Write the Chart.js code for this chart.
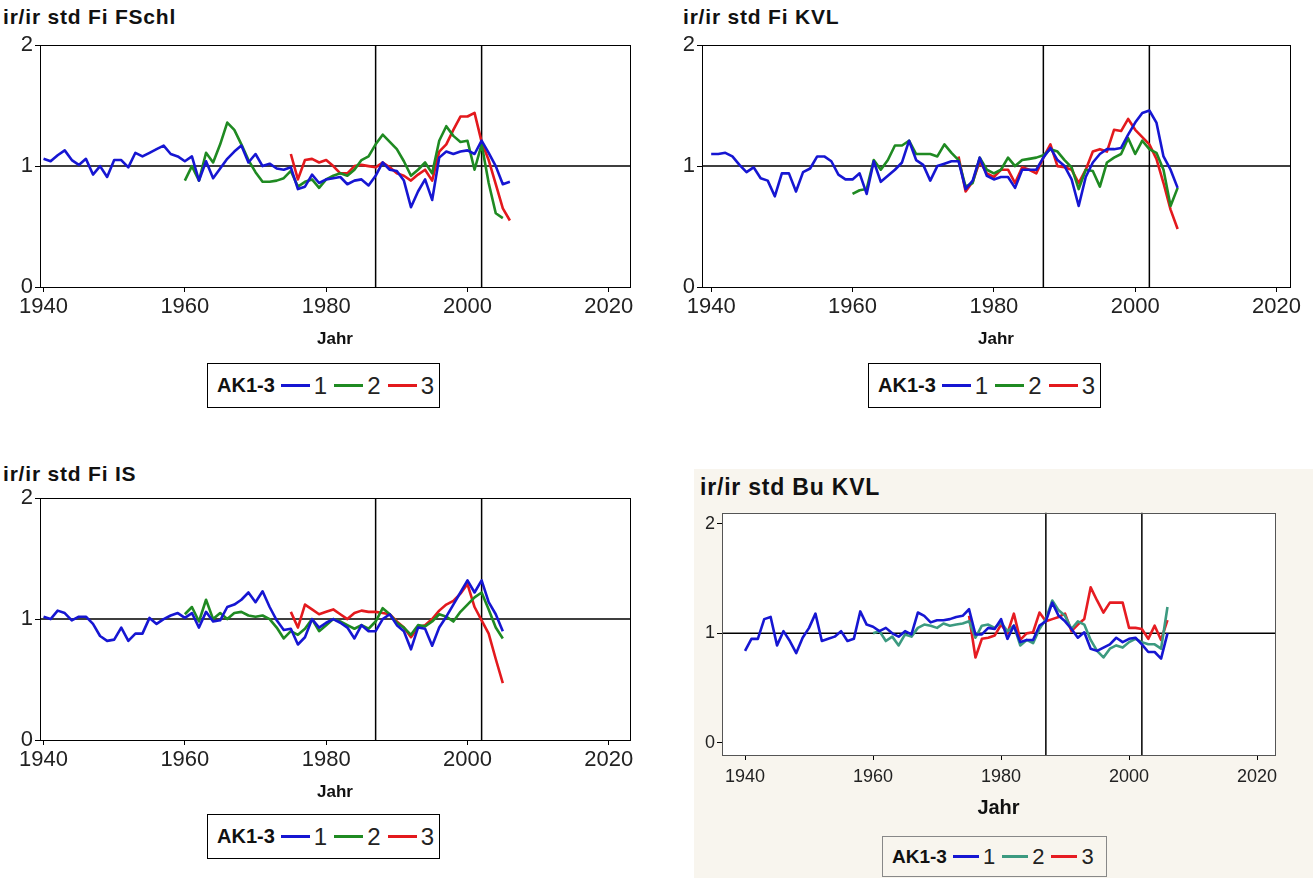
<!DOCTYPE html>
<html>
<head>
<meta charset="utf-8">
<script src="https://cdn.jsdelivr.net/npm/chart.js@4.4.1/dist/chart.umd.min.js"></script>
<style>
  body { margin: 0; width: 1313px; height: 878px; position: relative; overflow: hidden; background: #fff;
         font-family: "Liberation Sans", Arial, sans-serif; color: #111; }
  .bu-bg { position: absolute; left: 694px; top: 469px; width: 619px; height: 409px; background: #f8f5ee; }
  .title { position: absolute; font-weight: bold; white-space: nowrap; letter-spacing: 0.8px; }
  canvas { position: absolute; }
  .legend { position: absolute; border: 1px solid #000; box-sizing: border-box; display: flex; align-items: center;
            padding-left: 9px; white-space: nowrap; }
  .legend b { margin-right: 4px; }
  .legend .ln { display: inline-block; height: 3px; margin: 0 4px 0 2px; }
  .legend .lb { margin-right: 5px; color: #222; }
</style>
</head>
<body>
<div class="bu-bg"></div>

<div class="title" style="left:3px;top:5px;font-size:21px">ir/ir std Fi FSchl</div>
<div class="title" style="left:683px;top:5px;font-size:21px">ir/ir std Fi KVL</div>
<div class="title" style="left:3px;top:462px;font-size:21px">ir/ir std Fi IS</div>
<div class="title" style="left:700px;top:474px;font-size:23px">ir/ir std Bu KVL</div>

<canvas id="cFSchl" width="660" height="320" style="left:0;top:30px"></canvas>
<canvas id="cKVL" width="651" height="320" style="left:662px;top:30px"></canvas>
<canvas id="cIS" width="660" height="320" style="left:0;top:483px"></canvas>
<canvas id="cBu" width="633" height="320" style="left:680px;top:500px"></canvas>

<div class="legend" id="lgFSchl" style="left:207px;top:363px;width:233px;height:45px"></div>
<div class="legend" id="lgKVL" style="left:868px;top:363px;width:233px;height:45px"></div>
<div class="legend" id="lgIS" style="left:207px;top:814px;width:233px;height:45px"></div>
<div class="legend" id="lgBu" style="left:882px;top:836px;width:225px;height:41px;border-color:#888"></div>

<script>
// series labels (AK1-3) and first year of each series
const seriesLabels = ['1', '2', '3'];
const seriesStart = [1940, 1960, 1975];
const xTicks = [1940, 1960, 1980, 2000, 2020];
const yTicks = [0, 1, 2];
const refYears = [1987, 2002];
const refLevel = 1;

// Fi FSchl
const fschlBlue = [1.06, 1.04, 1.09, 1.13, 1.05, 1.01, 1.06, 0.93, 1.00, 0.91,
  1.05, 1.05, 0.99, 1.11, 1.08, 1.11, 1.14, 1.17, 1.10, 1.08,
  1.04, 1.08, 0.88, 1.04, 0.90, 0.98, 1.06, 1.12, 1.17, 1.03,
  1.10, 1.00, 1.02, 0.98, 0.97, 0.99, 0.81, 0.83, 0.93, 0.86,
  0.89, 0.90, 0.91, 0.85, 0.88, 0.89, 0.84, 0.92, 1.03, 0.97,
  0.96, 0.88, 0.66, 0.79, 0.89, 0.72, 1.07, 1.12, 1.10, 1.12,
  1.13, 1.10, 1.21, 1.11, 1.00, 0.85, 0.87];
const fschlGreen = [0.88, 1.00, 0.88, 1.11, 1.03, 1.18, 1.36, 1.30, 1.18, 1.05,
  0.95, 0.87, 0.87, 0.88, 0.90, 0.96, 0.83, 0.87, 0.89, 0.82,
  0.89, 0.92, 0.94, 0.92, 0.97, 1.05, 1.08, 1.18, 1.26, 1.20,
  1.14, 1.04, 0.92, 0.97, 1.03, 0.94, 1.21, 1.33, 1.25, 1.20,
  1.21, 0.97, 1.18, 0.86, 0.61, 0.57];
const fschlRed = [1.10, 0.89, 1.05, 1.06, 1.03, 1.05, 1.00, 0.94, 0.94, 1.00,
  1.01, 1.00, 0.99, 1.03, 0.99, 0.94, 0.92, 0.88, 0.93, 0.97,
  0.88, 1.12, 1.18, 1.30, 1.41, 1.41, 1.44, 1.20, 1.05, 0.85,
  0.65, 0.55];

// Fi KVL
const kvlBlue = [1.10, 1.10, 1.11, 1.08, 1.01, 0.95, 0.99, 0.90, 0.88, 0.75,
  0.94, 0.94, 0.79, 0.95, 0.98, 1.08, 1.08, 1.04, 0.93, 0.89,
  0.89, 0.94, 0.77, 1.04, 0.87, 0.92, 0.97, 1.03, 1.21, 1.05,
  1.01, 0.88, 1.00, 1.02, 1.04, 1.04, 0.81, 0.88, 1.07, 0.92,
  0.89, 0.91, 0.91, 0.82, 0.97, 0.97, 0.97, 1.07, 1.15, 1.05,
  1.00, 0.89, 0.67, 0.91, 1.03, 1.10, 1.14, 1.14, 1.15, 1.26,
  1.36, 1.44, 1.46, 1.36, 1.08, 0.97, 0.82];
const kvlGreen = [0.77, 0.80, 0.81, 1.05, 0.97, 1.05, 1.17, 1.17, 1.21, 1.10,
  1.10, 1.10, 1.08, 1.18, 1.11, 1.05, 0.83, 0.86, 1.07, 0.97,
  0.94, 0.97, 1.07, 1.00, 1.05, 1.06, 1.07, 1.09, 1.14, 1.12,
  1.05, 0.99, 0.81, 0.97, 0.96, 0.83, 1.03, 1.07, 1.10, 1.23,
  1.10, 1.21, 1.14, 1.11, 0.97, 0.67, 0.82];
const kvlRed = [1.08, 0.79, 0.87, 1.04, 0.94, 0.91, 0.97, 0.97, 0.86, 0.99,
  0.97, 0.94, 1.07, 1.18, 1.00, 0.99, 0.97, 0.86, 0.97, 1.12,
  1.14, 1.12, 1.30, 1.29, 1.39, 1.30, 1.24, 1.18, 1.06, 0.86,
  0.64, 0.48];

// Fi IS
const isBlue = [1.02, 1.00, 1.07, 1.05, 0.99, 1.02, 1.02, 0.96, 0.86, 0.82,
  0.83, 0.93, 0.82, 0.88, 0.88, 1.01, 0.96, 1.00, 1.03, 1.05,
  1.01, 1.05, 0.93, 1.06, 0.98, 0.99, 1.10, 1.12, 1.16, 1.22,
  1.14, 1.23, 1.10, 0.99, 0.91, 0.92, 0.79, 0.85, 1.00, 0.93,
  0.97, 1.00, 0.97, 0.93, 0.84, 0.95, 0.90, 0.90, 1.00, 1.04,
  0.95, 0.90, 0.75, 0.93, 0.92, 0.78, 0.93, 1.02, 1.12, 1.22,
  1.32, 1.22, 1.32, 1.14, 1.04, 0.90];
const isGreen = [1.04, 1.10, 0.98, 1.16, 1.00, 1.05, 1.00, 1.05, 1.06, 1.03,
  1.02, 1.03, 1.00, 0.93, 0.84, 0.90, 0.87, 0.92, 1.00, 0.90,
  0.95, 1.00, 0.98, 0.95, 0.92, 0.95, 0.92, 0.98, 1.09, 1.04,
  0.97, 0.93, 0.87, 0.95, 0.94, 0.98, 1.04, 1.02, 0.98, 1.06,
  1.12, 1.18, 1.22, 1.08, 0.93, 0.84];
const isRed = [1.06, 0.93, 1.12, 1.08, 1.04, 1.06, 1.08, 1.04, 1.00, 1.05,
  1.07, 1.06, 1.06, 1.05, 1.04, 0.98, 0.93, 0.85, 0.93, 0.95,
  1.00, 1.07, 1.12, 1.15, 1.21, 1.29, 1.10, 0.99, 0.88, 0.67,
  0.47];

// Bu KVL
const buBlue = [0.84, 0.95, 0.95, 1.13, 1.15, 0.89, 1.02, 0.93, 0.82, 0.96,
  1.05, 1.18, 0.93, 0.95, 0.97, 1.02, 0.93, 0.95, 1.20, 1.08,
  1.06, 1.02, 1.05, 1.00, 0.97, 1.02, 0.99, 1.19, 1.16, 1.10,
  1.12, 1.12, 1.13, 1.15, 1.16, 1.22, 0.99, 0.99, 1.05, 1.04,
  1.13, 0.95, 1.07, 0.92, 0.94, 0.94, 1.07, 1.11, 1.28, 1.16,
  1.11, 1.04, 0.96, 1.01, 0.86, 0.84, 0.87, 0.90, 0.96, 0.92,
  0.95, 0.96, 0.90, 0.83, 0.83, 0.77, 1.00];
const buGreen = [1.00, 1.02, 0.93, 0.97, 0.89, 0.99, 0.97, 1.05, 1.08, 1.07,
  1.05, 1.09, 1.07, 1.08, 1.09, 1.11, 0.96, 1.07, 1.08, 1.05,
  1.10, 1.02, 1.07, 0.89, 0.94, 0.91, 1.04, 1.13, 1.30, 1.21,
  1.16, 1.04, 1.11, 1.08, 0.94, 0.84, 0.78, 0.86, 0.89, 0.87,
  0.92, 0.95, 0.92, 0.90, 0.90, 0.86, 1.24];
const buRed = [1.16, 0.78, 0.95, 0.96, 0.98, 1.08, 1.00, 1.18, 0.94, 1.00,
  1.01, 1.19, 1.11, 1.13, 1.15, 1.18, 1.02, 1.08, 1.13, 1.42,
  1.30, 1.19, 1.28, 1.28, 1.28, 1.05, 1.05, 1.04, 0.95, 1.07,
  0.94, 1.12];

const fiColors = ['#1616d2', '#1f8a22', '#e3191d'];
const buColors = ['#1616d2', '#3c9a80', '#e61c22'];

const refLines = {
    id: 'refLines',
    beforeDraw(chart, args, opts) {
        if (!opts.plotBg) return;
        const a = chart.chartArea;
        chart.ctx.save();
        chart.ctx.fillStyle = opts.plotBg;
        chart.ctx.fillRect(a.left, a.top, a.right - a.left, a.bottom - a.top);
        chart.ctx.restore();
    },
    beforeDatasetsDraw(chart, args, opts) {
        const { ctx, chartArea: a, scales: { x, y } } = chart;
        ctx.save();
        ctx.strokeStyle = '#000';
        ctx.lineWidth = 1.5;
        ctx.beginPath();
        const yp = y.getPixelForValue(refLevel);
        ctx.moveTo(a.left, yp);
        ctx.lineTo(a.right, yp);
        refYears.forEach(yr => {
            const xp = x.getPixelForValue(yr);
            ctx.moveTo(xp, a.top);
            ctx.lineTo(xp, a.bottom);
        });
        ctx.stroke();
        ctx.restore();
    },
    afterDatasetsDraw(chart, args, opts) {
        const { ctx, chartArea: a } = chart;
        ctx.save();
        ctx.strokeStyle = opts.frameColor || '#000';
        ctx.lineWidth = 1;
        ctx.strokeRect(Math.round(a.left) + 0.5, Math.round(a.top) + 0.5,
            Math.round(a.right - a.left), Math.round(a.bottom - a.top));
        ctx.restore();
    }
};

function makePanel(id, series, colors, cfg) {
    const datasets = series.map((values, i) => ({
        label: seriesLabels[i],
        data: values.map((v, k) => ({ x: seriesStart[i] + k, y: v })),
        borderColor: colors[i],
        borderWidth: 2.6,
        borderJoinStyle: 'round',
        pointRadius: 0,
        tension: 0,
        fill: false
    }));
    new Chart(document.getElementById(id), {
        type: 'line',
        data: { datasets },
        options: {
            responsive: false,
            animation: false,
            events: [],
            layout: { padding: cfg.padding },
            plugins: {
                legend: { display: false },
                tooltip: { enabled: false },
                refLines: { plotBg: cfg.plotBg, frameColor: cfg.frameColor }
            },
            scales: {
                x: {
                    type: 'linear', min: cfg.xMin, max: cfg.xMax,
                    afterBuildTicks: s => { s.ticks = xTicks.map(v => ({ value: v })); },
                    afterFit: s => { s.height = cfg.xHeight; },
                    border: { display: false },
                    grid: { drawOnChartArea: false, tickLength: 5, color: '#000' },
                    ticks: { font: { family: 'Liberation Sans', size: cfg.tickSize }, color: '#222', padding: cfg.xTickPad,
                        maxRotation: 0, autoSkip: false, callback: v => String(v) },
                    title: { display: true, text: 'Jahr', color: '#111', padding: 0,
                        font: { family: 'Liberation Sans', size: cfg.jahrSize, weight: 'bold' } }
                },
                y: {
                    min: cfg.yMin, max: cfg.yMax,
                    afterBuildTicks: s => { s.ticks = yTicks.map(v => ({ value: v })); },
                    afterFit: s => { s.width = cfg.yWidth; },
                    border: { display: false },
                    grid: { drawOnChartArea: false, tickLength: 5, color: '#000' },
                    ticks: { font: { family: 'Liberation Sans', size: cfg.tickSize }, color: '#222', padding: 2,
                        callback: v => String(v) }
                }
            }
        },
        plugins: [refLines]
    });
}

function makeLegend(id, colors, size, labSize, lineW) {
    const el = document.getElementById(id);
    let html = `<b style="font-size:${size}px">AK1-3</b>`;
    seriesLabels.forEach((lab, i) => {
        html += `<span class="ln" style="width:${lineW}px;background:${colors[i]}"></span>` +
            `<span class="lb" style="font-size:${labSize}px">${lab}</span>`;
    });
    el.innerHTML = html;
}

const fiCfg = { padding: { top: 14, right: 30, left: 0, bottom: 0 }, xMin: 1939.5, xMax: 2023,
    yMin: 0, yMax: 2, xHeight: 63, yWidth: 40, tickSize: 22, jahrSize: 17, xTickPad: 2 };

makePanel('cFSchl', [fschlBlue, fschlGreen, fschlRed], fiColors, fiCfg);
makePanel('cKVL', [kvlBlue, kvlGreen, kvlRed], fiColors,
    Object.assign({}, fiCfg, { padding: { top: 14, right: 23, left: 0, bottom: 0 }, xMin: 1938.7, xMax: 2021.9 }));
makePanel('cIS', [isBlue, isGreen, isRed], fiColors, fiCfg);
makePanel('cBu', [buBlue, buGreen, buRed], buColors,
    { padding: { top: 12, right: 38, left: 0, bottom: 0 }, xMin: 1936.4, xMax: 2022.8,
      yMin: -0.11, yMax: 2.1, xHeight: 65, yWidth: 42, tickSize: 18, jahrSize: 20, xTickPad: 6,
      plotBg: '#ffffff', frameColor: '#555' });

makeLegend('lgFSchl', fiColors, 20, 24, 30);
makeLegend('lgKVL', fiColors, 20, 24, 30);
makeLegend('lgIS', fiColors, 20, 24, 30);
makeLegend('lgBu', buColors, 19, 22, 26);
</script>
</body>
</html>
